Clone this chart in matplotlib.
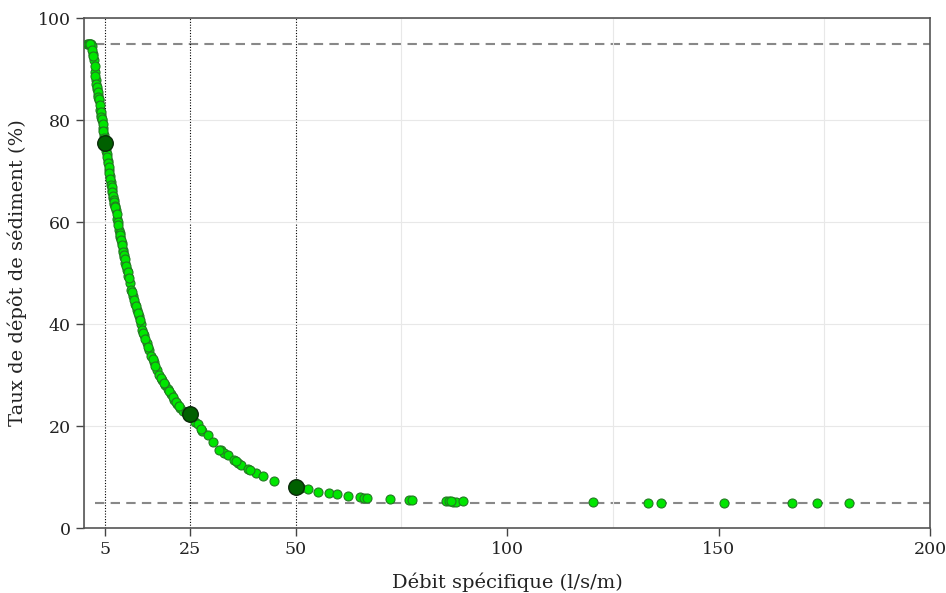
import matplotlib
matplotlib.use("Agg")
import matplotlib.pyplot as plt
from matplotlib.ticker import MultipleLocator

# specific discharge (l/s/m) and sediment deposition rate (%)
debit = [0.7, 1.0, 1.3, 1.6, 1.9, 2.1, 2.4, 2.6, 2.8, 3.1, 3.3, 3.6, 3.8, 4.0,
         4.3, 4.5, 4.7, 5.0, 5.3, 5.6, 5.9, 6.1, 6.3, 6.6, 6.9, 7.2, 7.6, 7.9,
         8.3, 8.6, 8.9, 9.2, 9.5, 9.8, 10.2, 10.5, 10.8, 11.1, 11.6, 12.0,
         12.6, 13.0, 13.4, 13.7, 14.2, 14.8, 15.4, 15.9, 16.5, 17.3, 17.8,
         18.5, 19.2, 19.8, 20.5, 21.3, 22.0, 22.8, 23.3, 24.2, 25.6, 26.2,
         26.9, 28.0, 29.2, 30.4, 32.4, 33.2, 34.0, 35.5, 36.3, 37.1, 38.7,
         40.7, 42.3, 45.0, 51.2, 52.9, 55.2, 57.8, 59.7, 62.3, 65.2, 66.1,
         67.0, 72.3, 76.8, 77.5, 85.5, 86.4, 87.2, 88.0, 89.6, 120.4, 133.4,
         136.5, 151.4, 167.3, 173.2, 180.8,
         1.2, 1.5, 2.0, 2.2, 2.5, 2.7, 2.9, 3.0, 3.2, 3.4, 3.5, 3.7, 3.9, 4.1,
         4.2, 4.4, 4.6, 4.8, 5.1, 5.2, 5.4, 5.5, 5.7, 5.8, 6.0, 6.2, 6.4, 6.5,
         6.7, 6.8, 7.0, 7.1, 7.3, 7.4, 7.7, 8.0, 8.1, 8.4, 8.5, 8.7, 9.0, 9.3,
         9.4, 9.6, 10.0, 10.3, 10.6, 11.3, 11.8, 12.3, 12.8, 13.2, 14.0, 14.5,
         15.1, 16.2, 16.9, 18.1, 18.9, 20.1, 21.0, 21.7, 22.4, 24.6, 27.6,
         31.8, 36.0, 39.3, 50.5, 86.8]
depot = [95.0, 95.0, 95.0, 95.0, 94.5, 93.0, 91.8, 89.5, 87.8, 86.0, 85.0,
         83.9, 82.0, 81.0, 80.0, 78.5, 77.0, 75.5, 74.0, 72.0, 70.2, 69.0,
         67.8, 66.3, 64.8, 63.5, 62.4, 60.5, 58.4, 57.0, 55.8, 54.5, 53.2,
         52.0, 50.6, 49.5, 48.0, 46.7, 45.5, 44.0, 42.7, 41.5, 40.0, 38.8,
         37.8, 36.2, 34.9, 33.8, 32.5, 31.0, 30.0, 29.0, 28.0, 27.2, 26.2,
         25.1, 24.3, 23.6, 23.0, 22.8, 21.5, 20.8, 20.3, 19.1, 18.2, 16.9,
         15.3, 14.8, 14.3, 13.3, 12.8, 12.4, 11.6, 10.8, 10.2, 9.3, 7.9, 7.6,
         7.1, 6.8, 6.6, 6.2, 6.0, 5.9, 5.9, 5.6, 5.5, 5.4, 5.2, 5.2, 5.1,
         5.1, 5.2, 5.05, 5.0, 5.0, 5.0, 5.0, 5.0, 5.0,
         95.0, 95.0, 93.8, 92.5, 90.5, 88.7, 87.0, 86.5, 85.5, 84.5, 84.2,
         83.0, 81.5, 80.6, 80.2, 79.2, 77.8, 76.5, 75.0, 74.5, 73.3, 72.7,
         71.5, 70.8, 69.7, 68.4, 67.2, 66.8, 65.8, 65.2, 64.3, 63.9, 63.1,
         62.9, 61.6, 60.0, 59.4, 57.9, 57.4, 56.5, 55.4, 54.1, 53.6, 52.8,
         51.3, 50.2, 49.0, 46.2, 44.7, 43.5, 42.1, 40.8, 38.3, 37.0, 35.5,
         33.2, 31.8, 29.5, 28.5, 26.8, 25.6, 24.7, 23.9, 22.6, 19.4, 15.2,
         13.1, 11.3, 7.9, 5.2]

# highlighted reference discharges
debit_ref = [5, 25, 50]
depot_ref = [75.5, 22.4, 8.0]

seuils = [95, 5]
xticks = [5, 25, 50, 100, 150, 200]

plt.rcParams['font.family'] = ['DejaVu Serif']

fig = plt.figure(figsize=(9.46, 5.93), dpi=100)
ax = fig.add_axes([0.0888, 0.1096, 0.8943, 0.86])

ax.set_xlim(0, 200)
ax.set_ylim(0, 100)

# light grid
ax.xaxis.set_minor_locator(MultipleLocator(25))
ax.grid(which='minor', axis='x', color='#e8e8e8', lw=0.8, zorder=0)
ax.grid(which='major', axis='y', color='#e8e8e8', lw=0.8, zorder=0)
ax.tick_params(which='minor', length=0)

# thresholds
for s in seuils:
    ax.hlines(s, 2.5, 200, colors='#888888', linestyles=(0, (4.5, 3)), lw=1.5, zorder=1)

# reference discharges
for d in debit_ref:
    ax.axvline(d, color='black', ls=(0, (1, 1.5)), lw=0.8, zorder=1)

ax.scatter(debit, depot, s=42, c='#00e600', edgecolors='#237a23', linewidths=0.8, zorder=3)
ax.scatter(debit_ref, depot_ref, s=125, c='#006000', edgecolors='#0a2a0a', linewidths=1.0, zorder=4)

ax.set_xticks(xticks)
ax.set_yticks(range(0, 101, 20))
ax.tick_params(which='major', direction='out', length=6, width=1, color='#444444',
               labelsize=12.5, labelcolor='#222222')

for sp in ax.spines.values():
    sp.set_color('#555555')
    sp.set_linewidth(1.2)

ax.set_xlabel('Débit spécifique (l/s/m)', fontsize=14, color='#222222', labelpad=10)
ax.set_ylabel('Taux de dépôt de sédiment (%)', fontsize=14, color='#222222', labelpad=8)

fig.savefig('out.png', dpi=100)
